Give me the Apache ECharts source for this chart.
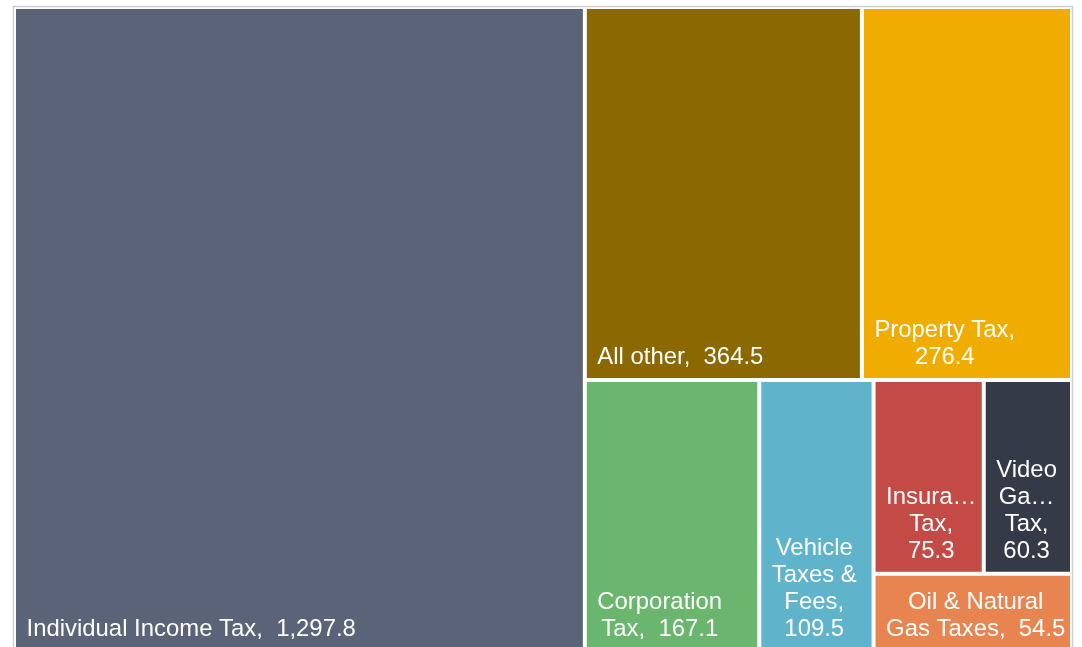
<!DOCTYPE html>
<html>
<head>
<meta charset="utf-8">
<script src="https://cdn.jsdelivr.net/npm/echarts@6/dist/echarts.min.js"></script>
<style>
  html, body { margin: 0; padding: 0; background: #fff; overflow: hidden; }
  #chart { width: 1082px; height: 647px; }
</style>
</head>
<body>
<div id="chart"></div>
<script>
// ---- data ----
const categories = ['Individual Income Tax', 'All other', 'Property Tax', 'Corporation Tax',
  'Vehicle Taxes & Fees', 'Insurance Tax', 'Video Gaming Tax', 'Oil & Natural Gas Taxes'];
const values = [1297.8, 364.5, 276.4, 167.1, 109.5, 75.3, 60.3, 54.5];
// label lines as wrapped/truncated in the picture ({v} = value)
const labelLines = [
  ['Individual Income Tax,  {v}'],
  ['All other,  {v}'],
  ['Property Tax,', '{v}'],
  ['Corporation', 'Tax,  {v}'],
  ['Vehicle', 'Taxes &', 'Fees,', '{v}'],
  ['Insura\u2026', 'Tax,', '{v}'],
  ['Video', 'Ga\u2026', 'Tax,', '{v}'],
  ['Oil & Natural', 'Gas Taxes,  {v}']
];
// nesting of the rectangles (indices into categories)
const groupTree = [0, [1, 2, [3, 4, [[5, 6], 7]]]];

// ---- styles ----
const colors = ['#5A6378', '#8C6800', '#F0AD00', '#6BB66E', '#5FB3CB', '#C34A45', '#343A47', '#E8844F'];
const FONT_SIZE = 23.9;
const LINE_HEIGHT = 26.8;
const FONT_FAMILY = '"Liberation Sans", Arial, sans-serif';

const measureCtx = document.createElement('canvas').getContext('2d');
measureCtx.font = FONT_SIZE + 'px ' + FONT_FAMILY;

function fmt(v) {
  return v.toLocaleString('en-US', { minimumFractionDigits: 1, maximumFractionDigits: 1 });
}

function leaf(i) {
  const lines = labelLines[i].map(s => s.replace('{v}', fmt(values[i])));
  const blockW = Math.max.apply(null, lines.map(l => measureCtx.measureText(l).width));
  return {
    name: categories[i],
    value: values[i],
    itemStyle: { color: colors[i] },
    label: {
      formatter: lines.join('\n'),
      offset: [blockW / 2 + 1.5, 2]
    }
  };
}

function build(node) {
  if (Array.isArray(node)) {
    const children = node.map(build);
    return { name: '', value: children.reduce((s, c) => s + c.value, 0), children: children };
  }
  return leaf(node);
}

const treeData = groupTree.map(build);

const chart = echarts.init(document.getElementById('chart'), null, { renderer: 'canvas' });
chart.setOption({
  animation: false,
  graphic: [{
    type: 'rect',
    shape: { x: 13.5, y: 6.5, width: 1059, height: 700 },
    style: { fill: 'none', stroke: '#cfcfcf', lineWidth: 1.5 },
    silent: true
  }],
  series: [{
    type: 'treemap',
    left: 16, top: 9, width: 1054, height: 640.5,
    sort: false,
    squareRatio: 1,
    roam: false,
    nodeClick: false,
    breadcrumb: { show: false },
    visibleMin: 0,
    itemStyle: { borderWidth: 0, gapWidth: 4, borderColor: '#fff' },
    label: {
      show: true,
      position: 'insideBottomLeft',
      distance: 9,
      padding: 0,
      overflow: 'none',
      align: 'center',
      verticalAlign: 'bottom',
      color: '#fff',
      fontSize: FONT_SIZE,
      lineHeight: LINE_HEIGHT,
      fontFamily: FONT_FAMILY
    },
    upperLabel: { show: false },
    emphasis: { disabled: true },
    data: treeData
  }]
});
</script>
</body>
</html>
